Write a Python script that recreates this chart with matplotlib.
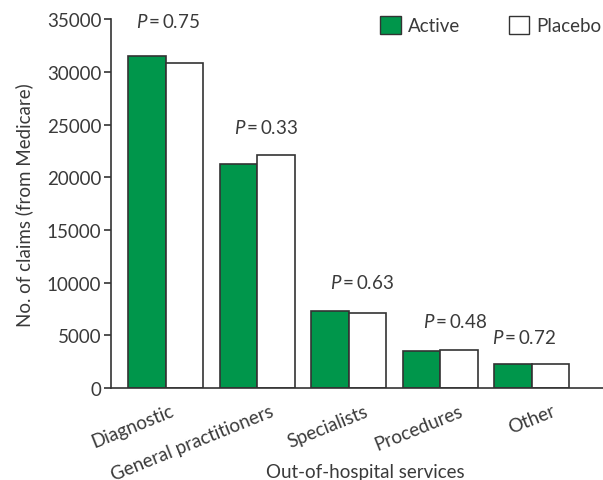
import numpy as np
import matplotlib
matplotlib.use("Agg")
import matplotlib.pyplot as plt
from matplotlib.patches import Patch

plt.rcParams['font.family'] = ['Lato', 'DejaVu Sans']
plt.rcParams['mathtext.fontset'] = 'custom'
plt.rcParams['mathtext.it'] = 'Lato:italic'

categories = ["Diagnostic", "General practitioners", "Specialists", "Procedures", "Other"]
active = [31550, 21250, 7330, 3540, 2250]
placebo = [30800, 22100, 7110, 3630, 2250]
p_values = ["0.75", "0.33", "0.63", "0.48", "0.72"]
p_heights = [34800, 24750, 10050, 6350, 4850]
yticks = [0, 5000, 10000, 15000, 20000, 25000, 30000, 35000]

# small horizontal nudges for the annotation text and category labels
p_shift = [0.02, 0.10, 0.15, 0.16, -0.08]
label_shift = [0.04, 0.13, 0.17, 0.20, 0.21]

GREEN = "#00964b"
EDGE = "#333333"
TXT = "#3a3a3a"
FS = 13.5

fig = plt.figure(figsize=(6.03, 4.81), dpi=100)
ax = fig.add_axes([0.184, 0.191, 0.816, 0.767])

x = np.arange(len(categories))
w = 0.41
ax.bar(x - w / 2, active, w, color=GREEN, edgecolor=EDGE, linewidth=1.2)
ax.bar(x + w / 2, placebo, w, color="white", edgecolor=EDGE, linewidth=1.2)

for xi, dx, pv, h in zip(x, p_shift, p_values, p_heights):
    ax.text(xi + dx, h, r"$P$" + "\u2009=\u2009" + pv, ha="center", va="center",
            fontsize=FS, color=TXT)

ax.set_xlim(-0.6, 4.78)
ax.set_ylim(0, 35000)
ax.set_yticks(yticks)
ax.set_yticklabels([str(t) for t in yticks], fontsize=FS, color=TXT)
ax.tick_params(axis="y", direction="out", length=5, width=1.2, color=EDGE, pad=2)
# category ticks are hidden, so their labels can sit slightly right of the bars
ax.set_xticks(x + np.array(label_shift))
ax.set_xticklabels(categories, rotation=22, ha="right", rotation_mode="anchor",
                   fontsize=FS, color=TXT)
ax.tick_params(axis="x", length=0, pad=10)
ax.spines[["top", "right"]].set_visible(False)
for side in ("left", "bottom"):
    ax.spines[side].set_color(EDGE)
    ax.spines[side].set_linewidth(1.2)

ax.set_ylabel("No. of claims (from Medicare)", fontsize=FS, color=TXT, labelpad=10)
ax.set_xlabel("Out-of-hospital services", fontsize=FS, color=TXT)
ax.xaxis.set_label_coords(0.516, -0.225)
ax.xaxis.label.set_va("center")

handles = [Patch(facecolor=GREEN, edgecolor=EDGE, label="Active"),
           Patch(facecolor="white", edgecolor=EDGE, label="Placebo")]
ax.legend(handles=handles, loc="upper right", ncol=2, frameon=False, fontsize=FS,
          handlelength=1.1, handleheight=1.1, handletextpad=0.35, columnspacing=2.6,
          bbox_to_anchor=(1.03, 1.055), labelcolor=TXT)

fig.savefig("out.png", dpi=100)
